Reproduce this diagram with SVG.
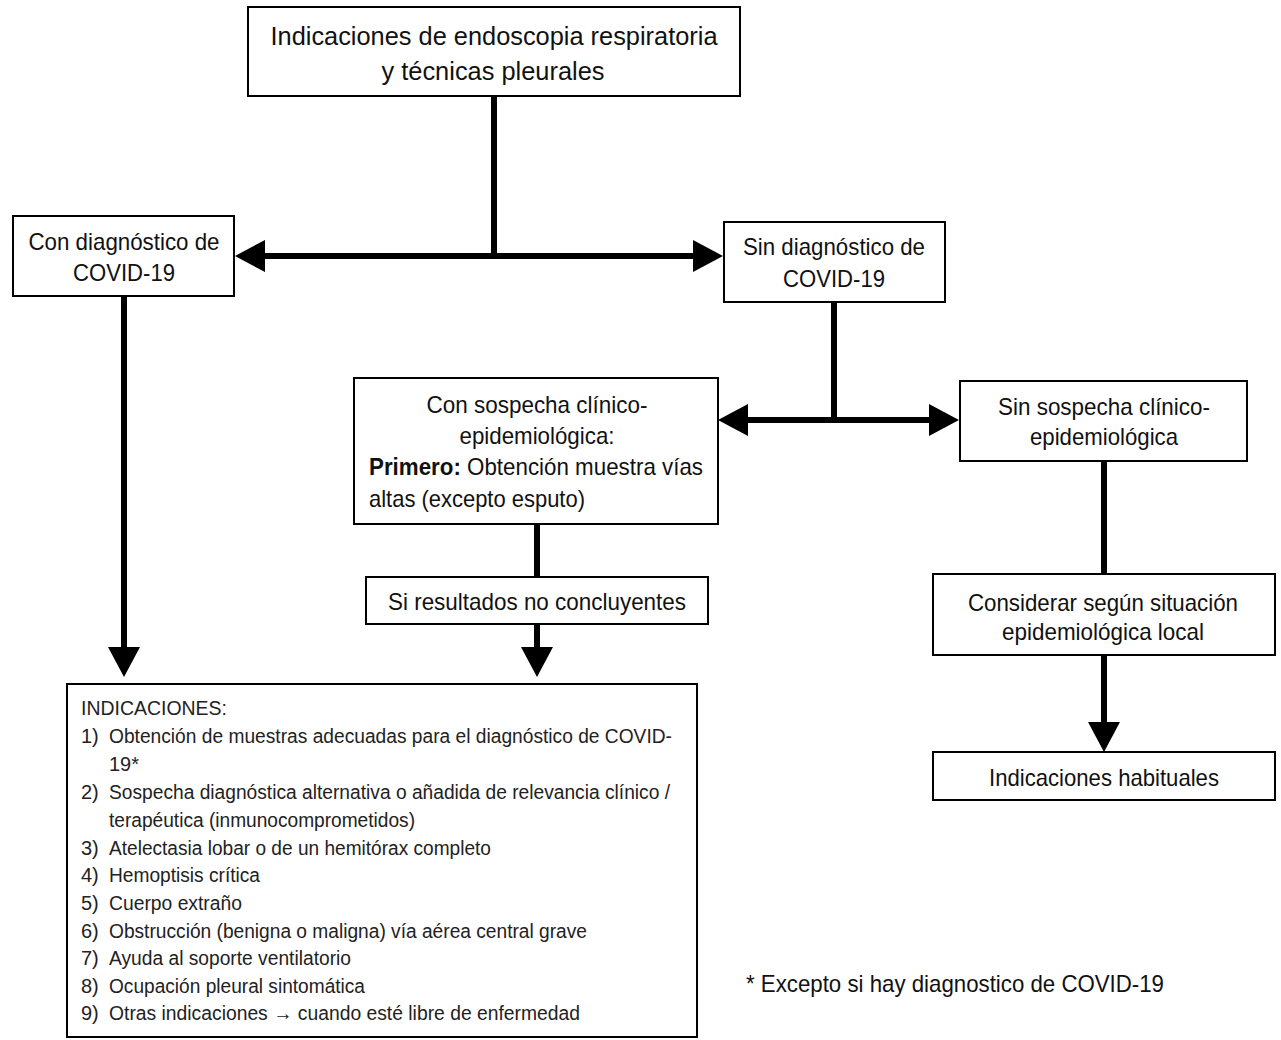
<svg xmlns="http://www.w3.org/2000/svg" width="1281" height="1040" viewBox="0 0 1281 1040">
<style>
.box{fill:#fff;stroke:#000;stroke-width:2}
.t{font-family:"Liberation Sans Narrow","Liberation Sans",Arial,sans-serif;fill:#111;font-size:24px}
.c{text-anchor:middle}
.big{font-size:26px}
.sm{font-size:20px;fill:#222}
.ln{fill:none;stroke:#000;stroke-width:6}
</style>
<defs>
<marker id="ah" viewBox="0 0 30 32" refX="22" refY="16" markerWidth="30" markerHeight="32" markerUnits="userSpaceOnUse" orient="auto">
<path d="M0,0 L30,16 L0,32 Z" fill="#000"/>
</marker>
</defs>
<rect width="1281" height="1040" fill="#fff"/>
<g id="connectors">
<path class="ln" d="M494,96 V256"/>
<path class="ln" d="M494,256 H243" marker-end="url(#ah)"/>
<path class="ln" d="M494,256 H715" marker-end="url(#ah)"/>
<path class="ln" d="M124,296 V669" marker-end="url(#ah)"/>
<path class="ln" d="M834,302 V420"/>
<path class="ln" d="M834,420 H726" marker-end="url(#ah)"/>
<path class="ln" d="M834,420 H951" marker-end="url(#ah)"/>
<path class="ln" d="M537,524 V577"/>
<path class="ln" d="M537,624 V669" marker-end="url(#ah)"/>
<path class="ln" d="M1104,461 V574"/>
<path class="ln" d="M1104,655 V744" marker-end="url(#ah)"/>
</g>
<g id="top">
<rect class="box" x="248" y="7" width="492" height="89"/>
<text class="t c big" x="494" y="45" textLength="447" lengthAdjust="spacingAndGlyphs">Indicaciones de endoscopia respiratoria</text>
<text class="t c big" x="493" y="80" textLength="223" lengthAdjust="spacingAndGlyphs">y técnicas pleurales</text>
</g>
<g id="con-diag">
<rect class="box" x="13" y="216" width="221" height="80"/>
<text class="t c" x="124" y="250" textLength="191" lengthAdjust="spacingAndGlyphs">Con diagnóstico de</text>
<text class="t c" x="124" y="281" textLength="102" lengthAdjust="spacingAndGlyphs">COVID-19</text>
</g>
<g id="sin-diag">
<rect class="box" x="724" y="222" width="221" height="80"/>
<text class="t c" x="834" y="255" textLength="182" lengthAdjust="spacingAndGlyphs">Sin diagnóstico de</text>
<text class="t c" x="834" y="287" textLength="102" lengthAdjust="spacingAndGlyphs">COVID-19</text>
</g>
<g id="con-sospecha">
<rect class="box" x="354" y="378" width="364" height="146"/>
<text class="t c" x="537" y="413" textLength="221" lengthAdjust="spacingAndGlyphs">Con sospecha clínico-</text>
<text class="t c" x="537" y="444" textLength="155" lengthAdjust="spacingAndGlyphs">epidemiológica:</text>
<text class="t" x="369" y="475" textLength="334" lengthAdjust="spacingAndGlyphs"><tspan font-weight="bold">Primero:</tspan> Obtención muestra vías</text>
<text class="t" x="369" y="507" textLength="216" lengthAdjust="spacingAndGlyphs">altas (excepto esputo)</text>
</g>
<g id="sin-sospecha">
<rect class="box" x="960" y="381" width="287" height="80"/>
<text class="t c" x="1104" y="415" textLength="212" lengthAdjust="spacingAndGlyphs">Sin sospecha clínico-</text>
<text class="t c" x="1104" y="445" textLength="148" lengthAdjust="spacingAndGlyphs">epidemiológica</text>
</g>
<g id="si-resultados">
<rect class="box" x="366" y="577" width="342" height="47"/>
<text class="t c" x="537" y="610" textLength="298" lengthAdjust="spacingAndGlyphs">Si resultados no concluyentes</text>
</g>
<g id="considerar">
<rect class="box" x="933" y="574" width="342" height="81"/>
<text class="t c" x="1103" y="611" textLength="270" lengthAdjust="spacingAndGlyphs">Considerar según situación</text>
<text class="t c" x="1103" y="640" textLength="202" lengthAdjust="spacingAndGlyphs">epidemiológica local</text>
</g>
<g id="habituales">
<rect class="box" x="933" y="752" width="342" height="48"/>
<text class="t c" x="1104" y="786" textLength="230" lengthAdjust="spacingAndGlyphs">Indicaciones habituales</text>
</g>
<g id="indicaciones">
<rect class="box" x="67" y="684" width="630" height="353"/>
<text class="t sm" x="81" y="715" textLength="146" lengthAdjust="spacingAndGlyphs">INDICACIONES:</text>
<text class="t sm" x="81" y="743">1)</text>
<text class="t sm" x="109" y="743" textLength="563" lengthAdjust="spacingAndGlyphs">Obtención de muestras adecuadas para el diagnóstico de COVID-</text>
<text class="t sm" x="109" y="771">19*</text>
<text class="t sm" x="81" y="799">2)</text>
<text class="t sm" x="109" y="799" textLength="561" lengthAdjust="spacingAndGlyphs">Sospecha diagnóstica alternativa o añadida de relevancia clínico /</text>
<text class="t sm" x="109" y="827" textLength="306" lengthAdjust="spacingAndGlyphs">terapéutica (inmunocomprometidos)</text>
<text class="t sm" x="81" y="855">3)</text>
<text class="t sm" x="109" y="855" textLength="382" lengthAdjust="spacingAndGlyphs">Atelectasia lobar o de un hemitórax completo</text>
<text class="t sm" x="81" y="882">4)</text>
<text class="t sm" x="109" y="882" textLength="151" lengthAdjust="spacingAndGlyphs">Hemoptisis crítica</text>
<text class="t sm" x="81" y="910">5)</text>
<text class="t sm" x="109" y="910" textLength="133" lengthAdjust="spacingAndGlyphs">Cuerpo extraño</text>
<text class="t sm" x="81" y="938">6)</text>
<text class="t sm" x="109" y="938" textLength="478" lengthAdjust="spacingAndGlyphs">Obstrucción (benigna o maligna) vía aérea central grave</text>
<text class="t sm" x="81" y="965">7)</text>
<text class="t sm" x="109" y="965" textLength="242" lengthAdjust="spacingAndGlyphs">Ayuda al soporte ventilatorio</text>
<text class="t sm" x="81" y="993">8)</text>
<text class="t sm" x="109" y="993" textLength="256" lengthAdjust="spacingAndGlyphs">Ocupación pleural sintomática</text>
<text class="t sm" x="81" y="1020">9)</text>
<text class="t sm" x="109" y="1020" textLength="471" lengthAdjust="spacingAndGlyphs">Otras indicaciones → cuando esté libre de enfermedad</text>
</g>
<g id="footnote">
<text class="t" x="746" y="992" font-size="25" textLength="418" lengthAdjust="spacingAndGlyphs">* Excepto si hay diagnostico de COVID-19</text>
</g>
</svg>
